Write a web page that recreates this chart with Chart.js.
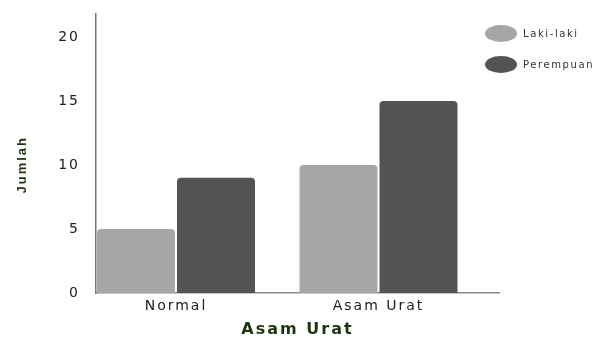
<!DOCTYPE html>
<html>
<head>
<meta charset="utf-8">
<script src="https://cdn.jsdelivr.net/npm/chart.js@4.4.1/dist/chart.umd.min.js"></script>
<style>
  html, body { margin: 0; padding: 0; background: #fff; }
  #wrap { position: relative; width: 605px; height: 339px; }
  #legend { position: absolute; left: 485px; top: 25px; font-family: 'DejaVu Sans', sans-serif; font-size: 10px; letter-spacing: 1.6px; color: #333; }
  .item { display: flex; align-items: center; height: 17px; margin-bottom: 14px; }
  .pill { width: 32px; height: 17px; border-radius: 50%; margin-right: 6px; }
</style>
</head>
<body>
<div id="wrap">
  <canvas id="chart" width="605" height="339"></canvas>
  <div id="legend"></div>
</div>
<script>
// Data
const categories = ['Normal', 'Asam Urat'];
const lakiLaki = [5, 10];
const perempuan = [9, 15];
const yTicks = [0, 5, 10, 15, 20];

const titleColor = '#1d3311';

// Canvas text gets a little tracking to match the wide lettering
const textSpacing = {
    id: 'textSpacing',
    beforeDraw(chart) { chart.ctx.letterSpacing = '2px'; }
};

const toPoints = (vals) => vals.map((v, i) => ({ x: i, y: v }));

const chart = new Chart(document.getElementById('chart'), {
    type: 'bar',
    data: {
        datasets: [
            { label: 'Laki-laki', data: toPoints(lakiLaki), backgroundColor: '#a6a6a6' },
            { label: 'Perempuan', data: toPoints(perempuan), backgroundColor: '#545454' }
        ]
    },
    options: {
        responsive: false,
        animation: false,
        categoryPercentage: 0.79,
        barPercentage: 0.975,
        borderRadius: 4,
        layout: { padding: { top: 14, right: 106, left: 0, bottom: 0 } },
        plugins: {
            legend: { display: false },
            tooltip: { enabled: false }
        },
        scales: {
            x: {
                type: 'linear',
                offset: false,
                min: -0.395,
                max: 1.595,
                grid: { display: false, drawTicks: false, offset: false },
                border: { display: true, color: '#8a8a8a', width: 1.5 },
                afterBuildTicks: (scale) => { scale.ticks = categories.map((c, i) => ({ value: i })); },
                afterFit: (scale) => { scale.height = 46; },
                ticks: {
                    padding: 5,
                    color: '#222',
                    font: { family: "'DejaVu Sans', sans-serif", size: 14 },
                    callback: (v) => categories[v]
                },
                title: {
                    display: true,
                    text: 'Asam Urat',
                    color: titleColor,
                    padding: { top: 0, bottom: 0 },
                    font: { family: "'DejaVu Sans', sans-serif", size: 16, weight: 'bold' }
                }
            },
            y: {
                min: 0,
                max: 21.8,
                grid: { display: false, drawTicks: false },
                border: { display: true, color: '#777', width: 1.5 },
                afterBuildTicks: (scale) => { scale.ticks = yTicks.map(v => ({ value: v })); },
                afterFit: (scale) => {
                    scale.width = 96;
                    scale.paddingTop = 0;
                    scale.paddingBottom = 0;
                },
                ticks: {
                    padding: 16,
                    color: '#222',
                    font: { family: "'DejaVu Sans', sans-serif", size: 14 }
                },
                title: {
                    display: true,
                    // trailing spaces push the label a bit below the axis middle
                    text: 'Jumlah\u00a0\u00a0\u00a0\u00a0',
                    color: titleColor,
                    padding: { top: 15, bottom: 0 },
                    font: { family: "'Liberation Sans', sans-serif", size: 13, weight: 'bold' }
                }
            }
        }
    },
    plugins: [textSpacing]
});

// HTML legend built from the datasets
const legendEl = document.getElementById('legend');
chart.data.datasets.forEach(ds => {
    const item = document.createElement('div');
    item.className = 'item';
    item.innerHTML = `<span class="pill" style="background:${ds.backgroundColor}"></span><span>${ds.label}</span>`;
    legendEl.appendChild(item);
});
</script>
</body>
</html>
